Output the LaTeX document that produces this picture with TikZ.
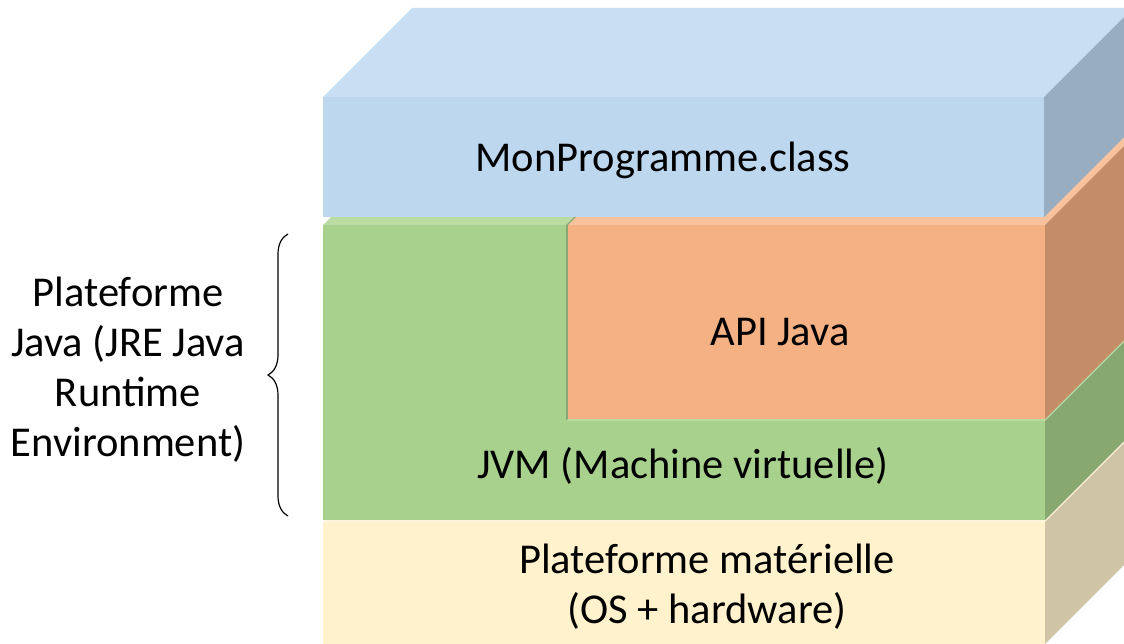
\documentclass[tikz,border=0pt]{standalone}
\usepackage{fontspec}
\setmainfont{Carlito}
\usetikzlibrary{positioning, decorations.pathreplacing}

\definecolor{clsfront}{HTML}{BDD7EE}
\definecolor{clstop}{HTML}{C9DEF2}
\definecolor{clsside}{HTML}{97ADC2}
\definecolor{apifront}{HTML}{F4B183}
\definecolor{apitop}{HTML}{F7C29C}
\definecolor{apiside}{HTML}{C48D67}
\definecolor{jvmfront}{HTML}{A9D18E}
\definecolor{jvmtop}{HTML}{BADCA3}
\definecolor{jvmside}{HTML}{87A870}
\definecolor{hwfront}{HTML}{FFF2CC}
\definecolor{hwtop}{HTML}{FFF5DA}
\definecolor{hwside}{HTML}{CFC4A6}

% one layer: x1 y1 x2 y2 front top side
\newcommand{\slab}[7]{%
  \fill[#6] (#1,#2) -- (#1+89,#2-89) -- (#3+89,#2-89) -- (#3,#2) -- cycle;
  \fill[#7] (#3,#2) -- (#3+89,#2-89) -- (#3+89,#4-89) -- (#3,#4) -- cycle;
  \fill[#5] (#1,#2) rectangle (#3,#4);
}

\begin{document}
\begin{tikzpicture}[x=1pt, y=-1pt, inner sep=0pt,
    lbl/.style={font=\fontsize{42.5}{50}\selectfont, align=center},
    edge/.style={decorate, decoration={brace, amplitude=20pt}, line width=1.2pt}]
  \useasboundingbox (0,0) rectangle (1124,644);
  \clip (0,0) rectangle (1124,644);
  % hardware
  \slab{323}{522}{1045}{644}{hwfront}{hwtop}{hwside}
  % jvm, column then base
  \slab{323}{225}{566}{520}{jvmfront}{jvmtop}{jvmside}
  \slab{566}{421}{1045}{520}{jvmfront}{jvmtop}{jvmside}
  % api
  \slab{568}{225}{1045}{419}{apifront}{apitop}{apiside}
  % class file
  \slab{323}{97}{1044}{217}{clsfront}{clstop}{clsside}
  % texts
  \node[lbl] (cls) at (663,160) {MonProgramme.class};
  \node[lbl] (api) at (780,332) {API Java};
  \node[lbl] (jvm) at (683,466) {JVM (Machine virtuelle)};
  \node[lbl] (hw) at (707,587) {Plateforme matérielle\\(OS + hardware)};
  \node[lbl] (jre) at (128,370) {Plateforme\\Java (JRE Java\\Runtime\\Environment)};
  % brace
  \coordinate (br_lo) at (288,516);
  \coordinate (br_hi) at (288,234);
  \draw[edge] (br_lo) -- (br_hi);
\end{tikzpicture}
\end{document}
